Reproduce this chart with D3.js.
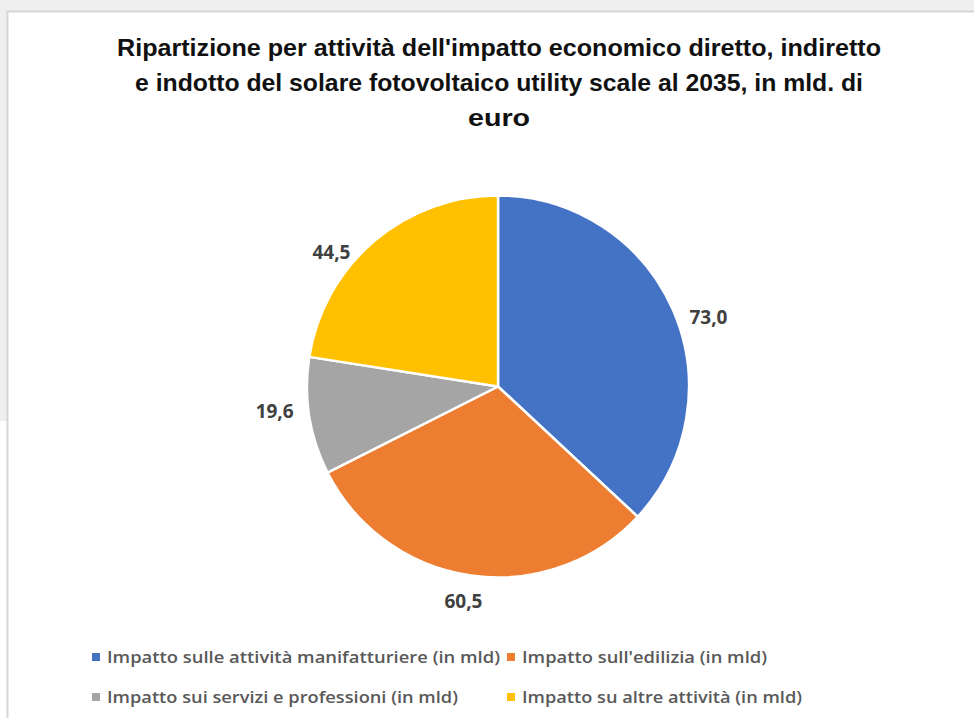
<!DOCTYPE html>
<html>
<head>
<meta charset="utf-8">
<script src="https://cdn.jsdelivr.net/npm/d3@7"></script>
<style>
  body { margin: 0; background: #fff; }
  svg { display: block; }
</style>
</head>
<body>
<div id="chart"></div>
<script>
// chart data
const categories = [
  'Impatto sulle attività manifatturiere (in mld)',
  "Impatto sull'edilizia (in mld)",
  'Impatto sui servizi e professioni (in mld)',
  'Impatto su altre attività (in mld)'
];
const values = [73.0, 60.5, 19.6, 44.5];
const colors = ['#4472c4', '#ed7d31', '#a5a5a5', '#ffc000'];
const titleLines = [
  "Ripartizione per attività dell'impatto economico diretto, indiretto",
  'e indotto del solare fotovoltaico utility scale al 2035, in mld. di',
  'euro'
];

const width = 974, height = 718;
const cx = 498, cy = 386.5, radius = 191;

const svg = d3.select('#chart')
  .append('svg')
  .attr('width', width)
  .attr('height', height);

// window frame around the chart
svg.append('rect').attr('x', 0).attr('y', 0).attr('width', width).attr('height', 11).attr('fill', '#efefef');
svg.append('rect').attr('x', 0).attr('y', 0).attr('width', 7).attr('height', 421).attr('fill', '#efefef');
svg.append('line').attr('x1', 7).attr('x2', width).attr('y1', 11.5).attr('y2', 11.5)
  .attr('stroke', '#d6d6d6').attr('stroke-width', 2);
svg.append('line').attr('x1', 7.5).attr('x2', 7.5).attr('y1', 11).attr('y2', height)
  .attr('stroke', '#d6d6d6').attr('stroke-width', 2);

// title
const titleWidths = [764, 728, 62];
svg.append('g')
  .selectAll('text')
  .data(titleLines)
  .join('text')
  .attr('x', 499)
  .attr('y', (d, i) => 56 + i * 35)
  .attr('text-anchor', 'middle')
  .attr('font-family', '"Liberation Sans Narrow", "Liberation Sans", sans-serif')
  .attr('font-weight', 'bold')
  .attr('font-size', '24px')
  .attr('fill', '#111')
  .attr('textLength', (d, i) => titleWidths[i])
  .attr('lengthAdjust', 'spacingAndGlyphs')
  .text(d => d);

// pie
const pie = d3.pie().sort(null).value(d => d);
const arcs = pie(values);
const arc = d3.arc().innerRadius(0).outerRadius(radius);

const g = svg.append('g').attr('transform', `translate(${cx}, ${cy})`);

g.selectAll('path')
  .data(arcs)
  .join('path')
  .attr('d', arc)
  .attr('fill', (d, i) => colors[i])
  .attr('stroke', '#fff')
  .attr('stroke-width', 2.5)
  .attr('stroke-linejoin', 'round');

// data labels, outside end (with the small manual nudges seen in the original)
const fmt = d3.formatLocale({ decimal: ',', thousands: '.', grouping: [3], currency: ['', '€'] }).format('.1f');
const labelNudge = [[5, 15], [-3, 5], [-2, -8], [-21, 27]];
const pad = 14, labelH = 14;
const labels = g.selectAll('text.lbl')
  .data(arcs)
  .join('text')
  .attr('class', 'lbl')
  .attr('text-anchor', 'middle')
  .attr('dominant-baseline', 'central')
  .attr('font-family', '"Open Sans", sans-serif')
  .attr('font-weight', 'bold')
  .attr('font-size', '19px')
  .attr('fill', '#404040')
  .text(d => fmt(d.data));

labels.each(function (d, i) {
  const w = this.getBBox().width;
  const a = (d.startAngle + d.endAngle) / 2;
  const ux = Math.sin(a), uy = -Math.cos(a);
  const x = ux * (radius + pad) + ux * w / 2 + labelNudge[i][0];
  const y = uy * (radius + pad) + uy * labelH / 2 + labelNudge[i][1];
  d3.select(this).attr('x', x).attr('y', y);
});

// legend
const legendPos = [[92, 657], [507, 657], [92, 697], [507, 697]];
const legendWidths = [393, 245, 351, 280];
const legend = svg.append('g')
  .selectAll('g')
  .data(categories)
  .join('g')
  .attr('transform', (d, i) => `translate(${legendPos[i][0]}, ${legendPos[i][1]})`);

legend.append('rect')
  .attr('x', 0).attr('y', -4)
  .attr('width', 8).attr('height', 8)
  .attr('fill', (d, i) => colors[i]);

legend.append('text')
  .attr('x', 15)
  .attr('y', 0)
  .attr('dominant-baseline', 'central')
  .attr('font-family', '"Open Sans", sans-serif')
  .attr('font-weight', 600)
  .attr('font-size', '16px')
  .attr('fill', '#595959')
  .attr('textLength', (d, i) => legendWidths[i])
  .attr('lengthAdjust', 'spacingAndGlyphs')
  .text(d => d);
</script>
</body>
</html>
